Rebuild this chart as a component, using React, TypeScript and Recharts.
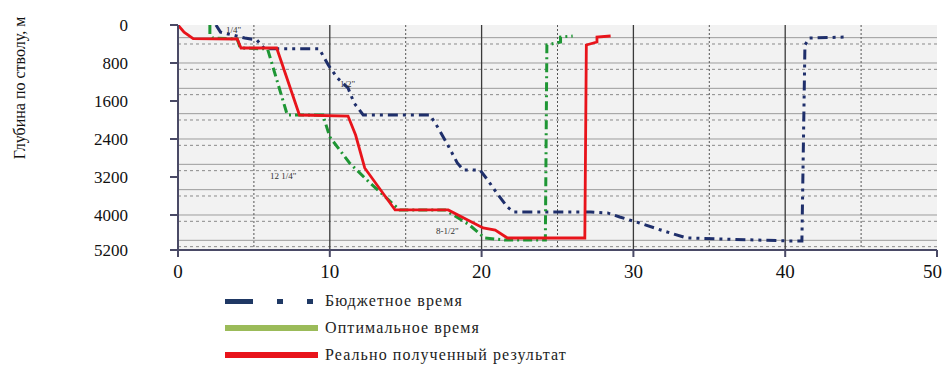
import { LineChart, Line, XAxis, YAxis, CartesianGrid } from "recharts";

// time, days
const budgetT = [2.5, 2.8, 4.4, 5.2, 5.7, 9.3, 9.9, 10.5, 11.2, 11.6, 12.2, 16.6, 17.1, 17.7, 18.4, 18.8, 19.9, 20.4, 21.0, 21.7, 22.1, 27.2, 28.3, 29.1, 30.4, 31.8, 33.5, 40.3, 41.1, 41.3, 41.6, 44.1];
// depth, m
const budgetD = [0, 150, 274, 316, 500, 500, 842, 1115, 1326, 1642, 1895, 1895, 2147, 2484, 2905, 3053, 3053, 3263, 3537, 3831, 3936, 3936, 3957, 4042, 4168, 4315, 4484, 4547, 4547, 421, 274, 253];

const optimalT = [2.1, 2.1, 2.3, 3.9, 4.1, 5.9, 7.2, 9.55, 10.0, 11.3, 12.65, 14.6, 17.6, 19.2, 20.2, 21.5, 24.2, 24.3, 25.2, 25.2, 26.0];
const optimalD = [0, 210, 274, 295, 484, 505, 1895, 1895, 2358, 2905, 3326, 3894, 3894, 4210, 4484, 4526, 4526, 421, 358, 253, 232];

const actualT = [0, 0.4, 1.0, 3.9, 4.15, 6.5, 8.0, 11.2, 11.7, 12.3, 14.3, 17.8, 20.1, 20.9, 21.7, 26.8, 26.9, 27.6, 27.6, 28.5];
const actualD = [0, 150, 285, 295, 484, 484, 1895, 1916, 2316, 3010, 3894, 3894, 4273, 4316, 4484, 4484, 421, 358, 253, 232];

const xTicks = [0, 10, 20, 30, 40, 50];
const xMajor = [10, 20, 30, 40];
const xMinor = [5, 15, 25, 35, 45];
const yTicks = [0, 800, 1600, 2400, 3200, 4000, 4737];
const yTickLabels = ["0", "800", "1600", "2400", "3200", "4000", "5200"];
const yMax = 4737;

// horizontal grid every 1/6 of 800 m
const gridStep = 800 / 6;
const hSolid: number[] = [];
const hDashed: number[] = [];
for (let i = 1; i * gridStep < yMax; i++) {
  (i % 2 === 0 ? hSolid : hDashed).push(i * gridStep);
}

const toPoints = (t: number[], d: number[]) => t.map((x, i) => ({ t: x, d: d[i] }));
const budget = toPoints(budgetT, budgetD);
const optimal = toPoints(optimalT, optimalD);
const actual = toPoints(actualT, actualD);

const SERIF = "Liberation Serif, DejaVu Serif, Times New Roman, serif";

const legendItems = [
  { name: "Бюджетное время", kind: "budget" },
  { name: "Оптимальное время", kind: "optimal" },
  { name: "Реально полученный результат", kind: "actual" },
];

const notes = [
  { text: '1/4"', left: 226, top: 25 },
  { text: '1/2"', left: 340, top: 79 },
  { text: '12 1/4"', left: 270, top: 171 },
  { text: '8-1/2"', left: 436, top: 226 },
];

function Swatch({ kind }: { kind: string }) {
  return (
    <svg width={96} height={10} style={{ display: "block" }}>
      {kind === "budget" && (
        <g fill="#1F3864">
          <rect x={0} y={3} width={28} height={5} />
          <rect x={52} y={3} width={6} height={5} />
          <rect x={82} y={3} width={6} height={5} />
        </g>
      )}
      {kind === "optimal" && <rect x={0} y={2} width={93} height={6} fill="#9BBB59" />}
      {kind === "actual" && <rect x={0} y={2} width={93} height={6} fill="#E8141B" />}
    </svg>
  );
}

export default function App() {
  return (
    <div style={{ position: "absolute", left: 0, top: 0, width: 942, height: 368, background: "#fff", fontFamily: SERIF }}>
      <LineChart width={942} height={368} margin={{ top: 25, right: 5, bottom: 88, left: 0 }} style={{ fontFamily: SERIF }}>
        <CartesianGrid fill="#F2F2F2" stroke="#9C9C9C" vertical={false} horizontalValues={hSolid} />
        <CartesianGrid stroke="#8A8A8A" strokeDasharray="3 3" vertical={false} horizontalValues={hDashed} />
        <CartesianGrid stroke="#3A3A3A" strokeWidth={1.3} horizontal={false} verticalValues={xMajor} />
        <CartesianGrid stroke="#555" strokeDasharray="2 2" horizontal={false} verticalValues={xMinor} />
        <XAxis
          dataKey="t"
          type="number"
          domain={[0, 50]}
          ticks={xTicks}
          allowDataOverflow
          stroke="#4A4A66"
          strokeWidth={2}
          tickSize={7}
          tickMargin={8}
          tick={{ fill: "#111", fontSize: 19, fontFamily: SERIF }}
          height={30}
        />
        <XAxis xAxisId="top" orientation="top" type="number" domain={[0, 50]} tick={false} tickLine={false} stroke="#4A4A66" strokeWidth={2.5} height={0} />
        <YAxis
          dataKey="d"
          type="number"
          reversed
          domain={[0, yMax]}
          ticks={yTicks}
          allowDataOverflow
          tickFormatter={(v: number) => yTickLabels[yTicks.indexOf(v)] ?? String(v)}
          stroke="#4A4A66"
          strokeWidth={2}
          tickSize={8}
          tickMargin={42}
          tick={{ fill: "#111", fontSize: 17, fontFamily: SERIF }}
          width={178}
        />
        <YAxis yAxisId="right" orientation="right" type="number" domain={[0, yMax]} tick={false} tickLine={false} stroke="#6A6A80" width={0} />
        <Line data={budget} dataKey="d" type="linear" stroke="#1F2F6B" strokeWidth={3} strokeDasharray="10 5 3 5 3 5" dot={false} isAnimationActive={false} />
        <Line data={optimal} dataKey="d" type="linear" stroke="#1E9634" strokeWidth={3} strokeDasharray="9 4 2 4" dot={false} isAnimationActive={false} />
        <Line data={actual} dataKey="d" type="linear" stroke="#E8141B" strokeWidth={2.8} dot={false} isAnimationActive={false} />
      </LineChart>

      {notes.map((n) => (
        <div key={n.text} style={{ position: "absolute", left: n.left, top: n.top, fontSize: 9, color: "#333", whiteSpace: "nowrap" }}>
          {n.text}
        </div>
      ))}

      <div
        style={{
          position: "absolute",
          left: 20,
          top: 88,
          transform: "translate(-50%, -50%) rotate(-90deg)",
          fontSize: 16,
          whiteSpace: "nowrap",
          color: "#111",
        }}
      >
        Глубина по стволу, м
      </div>

      <div style={{ position: "absolute", left: 225, top: 287 }}>
        {legendItems.map((it) => (
          <div key={it.kind} style={{ display: "flex", alignItems: "center", height: 27 }}>
            <Swatch kind={it.kind} />
            <span style={{ marginLeft: 4, fontSize: 16, letterSpacing: 1.1, color: "#222" }}>{it.name}</span>
          </div>
        ))}
      </div>
    </div>
  );
}
